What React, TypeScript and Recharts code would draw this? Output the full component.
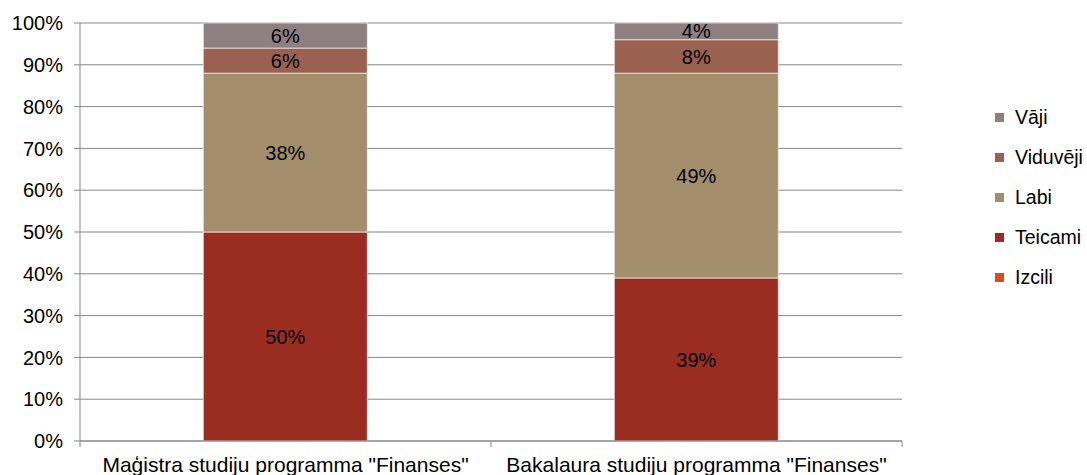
import { Bar, BarChart, CartesianGrid, LabelList, Legend, XAxis, YAxis } from "recharts";

const programs = ['Maģistra studiju programma "Finanses"', 'Bakalaura studiju programma "Finanses"'];
const izcili = [0, 0];
const teicami = [50, 39];
const labi = [38, 49];
const viduveji = [6, 8];
const vaji = [6, 4];
const yTicks = [0, 10, 20, 30, 40, 50, 60, 70, 80, 90, 100];

const series = [
  { key: "Izcili", color: "#d34f1b" },
  { key: "Teicami", color: "#9b2d20" },
  { key: "Labi", color: "#a38e6b" },
  { key: "Viduvēji", color: "#9a6050" },
  { key: "Vāji", color: "#8e7f80" },
];

const rows = programs.map((name, i) => ({
  name,
  Izcili: izcili[i],
  Teicami: teicami[i],
  Labi: labi[i],
  "Viduvēji": viduveji[i],
  "Vāji": vaji[i],
}));

const axisGrey = "#878787";
const font = "'Liberation Sans', Arial, sans-serif";

function CategoryTick(props: any) {
  const { x, y, payload, index, visibleTicksCount } = props;
  const half = payload.offset ?? 0;
  const axisY = y - 16;
  return (
    <g>
      <line x1={x - half} x2={x - half} y1={axisY} y2={axisY + 6} stroke={axisGrey} />
      {index === visibleTicksCount - 1 && (
        <line x1={x + half} x2={x + half} y1={axisY} y2={axisY + 6} stroke={axisGrey} />
      )}
      <text x={x} y={y} dy="0.71em" textAnchor="middle" fill="#000" fontSize={21} fontFamily={font}>
        {payload.value}
      </text>
    </g>
  );
}

function SideLegend() {
  const items = [...series].reverse();
  return (
    <div style={{ fontFamily: font, fontSize: 19.5, color: "#000" }}>
      {items.map((s) => (
        <div key={s.key} style={{ height: 40, display: "flex", alignItems: "center" }}>
          <span style={{ width: 9, height: 9, background: s.color, marginRight: 11, display: "inline-block" }} />
          <span>{s.key}</span>
        </div>
      ))}
    </div>
  );
}

const pct = (v: any) => (v ? `${v}%` : "");

export default function App() {
  return (
    <div style={{ position: "fixed", left: 0, top: 0, width: 1087, height: 475, background: "#fff" }}>
      <BarChart
        width={1087}
        height={475}
        data={rows}
        margin={{ top: 23, right: 93, bottom: 0, left: 0 }}
        barCategoryGap="30%"
      >
        <CartesianGrid vertical={false} stroke={axisGrey} strokeWidth={1} />
        <XAxis
          dataKey="name"
          height={34}
          tickLine={false}
          tickSize={0}
          tickMargin={16}
          axisLine={{ stroke: axisGrey }}
          tick={<CategoryTick />}
          interval={0}
        />
        <YAxis
          width={80}
          domain={[0, 100]}
          ticks={yTicks}
          tickFormatter={(v) => `${v}%`}
          tickSize={6}
          tickMargin={11}
          tickLine={{ stroke: axisGrey }}
          axisLine={{ stroke: axisGrey }}
          tick={{ fill: "#000", fontSize: 20, fontFamily: font }}
        />
        <Legend
          layout="vertical"
          align="right"
          verticalAlign="top"
          content={<SideLegend />}
          wrapperStyle={{ left: 995, top: 97, width: 92 }}
        />
        {series.map((s) => (
          <Bar
            key={s.key}
            dataKey={s.key}
            stackId="a"
            fill={s.color}
            stroke="#f2eeee"
            strokeWidth={0.75}
            isAnimationActive={false}
          >
            <LabelList
              dataKey={s.key}
              position="center"
              formatter={pct}
              fill="#000"
              fontSize={20}
              fontFamily={font}
            />
          </Bar>
        ))}
      </BarChart>
    </div>
  );
}
